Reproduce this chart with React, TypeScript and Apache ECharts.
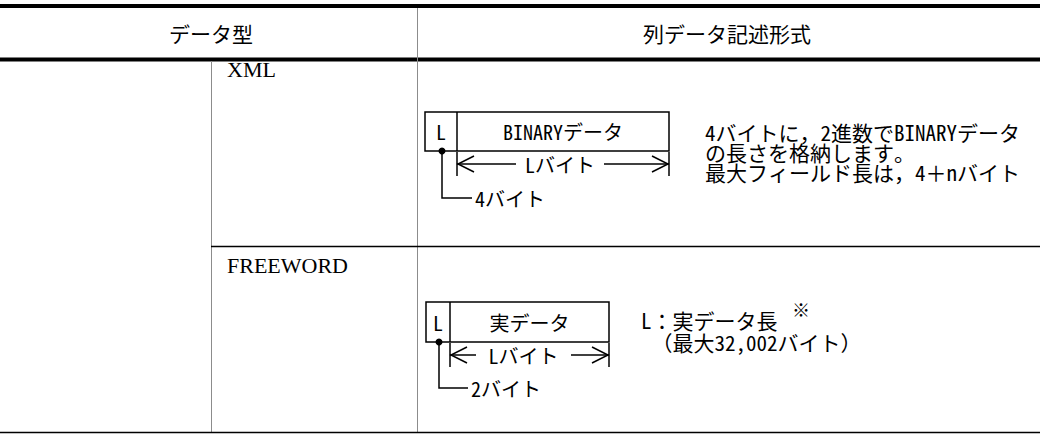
import React, { useEffect, useRef } from "react";
import * as echarts from "echarts";

const headers = ["データ型", "列データ記述形式"];
const dataTypes = ["XML", "FREEWORD"];
const fieldLabels = ["BINARYデータ", "実データ"];
const prefixLabels = ["4バイト", "2バイト"];
const lengthLabel = "Lバイト";
const xmlNotes = ["4バイトに，2進数でBINARYデータ", "の長さを格納します。", "最大フィールド長は，4＋nバイト"];
const freeNotes = ["L：実データ長", "　（最大32,002バイト）"];
const noteMark = "※";

const MONO = "'Noto Sans Mono CJK JP', 'Noto Sans CJK JP', sans-serif";
const GOTH = "'Noto Sans CJK JP', sans-serif";
const SERIF = "'Liberation Serif', 'DejaVu Serif', serif";

const ln = (x1: number, y1: number, x2: number, y2: number, w = 1.5, c = "#000") => ({
  type: "line",
  silent: true,
  shape: { x1, y1, x2, y2 },
  style: { stroke: c, lineWidth: w },
});
const pl = (pts: number[][], w = 1.5) => ({
  type: "polyline",
  silent: true,
  shape: { points: pts },
  style: { stroke: "#000", lineWidth: w, fill: null },
});
const tx = (text: string, x: number, y: number, size: number, family: string, align = "left", lineHeight?: number) => ({
  type: "text",
  silent: true,
  x,
  y,
  style: {
    text,
    fill: "#000",
    fontSize: size,
    fontFamily: family,
    lineHeight: lineHeight ?? size,
    align,
    verticalAlign: "middle",
    textAlign: align,
    textVerticalAlign: "middle",
  },
});

type Diag = {
  bx: number; by: number; bw: number; bh: number; div: number;
  label: string; prefix: string;
  ay: number; tickTop: number; tickBot: number; gapL: number; gapR: number;
  connY: number; connX: number;
};

function diagram(d: Diag) {
  const right = d.bx + d.bw;
  const bottom = d.by + d.bh;
  const dotX = (d.bx + d.div) / 2 + 1;
  const els: any[] = [
    { type: "rect", silent: true, shape: { x: d.bx, y: d.by, width: d.bw, height: d.bh }, style: { stroke: "#000", lineWidth: 1.5, fill: "#fff" } },
    ln(d.div, d.by, d.div, bottom),
    tx("L", (d.bx + d.div) / 2, d.by + d.bh / 2, 20, MONO, "center"),
    tx(d.label, (d.div + right) / 2, d.by + d.bh / 2, 20, MONO, "center"),
    pl([[dotX, bottom], [dotX, d.connY], [d.connX, d.connY]]),
    { type: "circle", silent: true, shape: { cx: dotX, cy: bottom, r: 3.5 }, style: { fill: "#000" } },
    tx(d.prefix, d.connX + 3, d.connY, 20, MONO, "left"),
    ln(d.div, d.tickTop, d.div, d.tickBot),
    ln(right, d.tickTop, right, d.tickBot),
    ln(d.div, d.ay, d.gapL, d.ay),
    ln(d.gapR, d.ay, right, d.ay),
    pl([[d.div + 17, d.ay - 8], [d.div + 1, d.ay], [d.div + 17, d.ay + 8]]),
    pl([[right - 17, d.ay - 8], [right - 1, d.ay], [right - 17, d.ay + 8]]),
    tx(lengthLabel, (d.gapL + d.gapR) / 2, d.ay, 20, MONO, "center"),
  ];
  return els;
}

export default function App() {
  const ref = useRef<HTMLDivElement>(null);
  useEffect(() => {
    if (!ref.current) return;
    const chart = echarts.init(ref.current, null, { renderer: "svg" });
    const elements: any[] = [
      // table rules
      ln(0, 6, 1040, 6, 4),
      ln(0, 59.5, 1040, 59.5, 4),
      ln(417.5, 8, 417.5, 433, 1, "#8c8c8c"),
      ln(211.5, 61, 211.5, 433, 1, "#8c8c8c"),
      ln(211, 246.5, 1040, 246.5, 1.5),
      ln(0, 432.5, 1040, 432.5, 1.5),
      // headers
      tx(headers[0], 211, 33, 21, GOTH, "center"),
      tx(headers[1], 727, 33, 21, GOTH, "center"),
      // data types
      tx(dataTypes[0], 227, 69, 22, SERIF, "left"),
      tx(dataTypes[1], 227, 265, 22, SERIF, "left"),
      // diagrams
      ...diagram({
        bx: 425, by: 112, bw: 244, bh: 39, div: 457,
        label: fieldLabels[0], prefix: prefixLabels[0],
        ay: 164, tickTop: 152, tickBot: 176, gapL: 516, gapR: 604,
        connY: 198, connX: 472,
      }),
      ...diagram({
        bx: 426, by: 302, bw: 183, bh: 40, div: 450,
        label: fieldLabels[1], prefix: prefixLabels[1],
        ay: 355, tickTop: 343, tickBot: 367, gapL: 476, gapR: 571,
        connY: 388, connX: 468,
      }),
      // notes
      tx(xmlNotes.join("\n"), 705, 152, 21, MONO, "left", 20),
      tx(freeNotes.join("\n"), 641, 331, 21, MONO, "left", 22),
      tx(noteMark, 792, 309, 18, MONO, "left"),
    ];
    chart.setOption({
      animation: false,
      backgroundColor: "#fff",
      graphic: { elements },
    });
    return () => chart.dispose();
  }, []);
  return (
    <div
      ref={ref}
      style={{ position: "absolute", left: 0, top: 0, width: 1040, height: 435, background: "#fff" }}
    />
  );
}
